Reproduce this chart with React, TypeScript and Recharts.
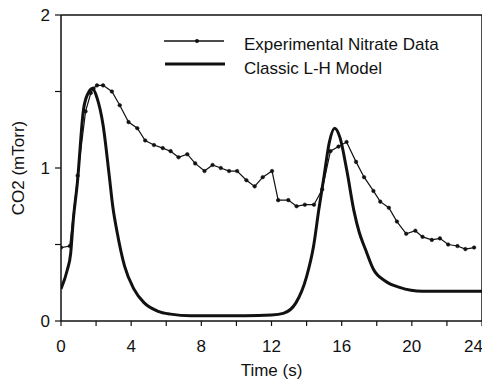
import React from "react";
import { LineChart, Line, XAxis, YAxis, ReferenceLine, Customized } from "recharts";

const expTime = [0, 0.5, 0.95, 1.4, 1.7, 1.85, 2.05, 2.4, 2.9, 3.35, 3.85, 4.35, 4.8, 5.3, 5.8, 6.25, 6.7, 7.2, 7.65, 8.18, 8.64, 9.11, 9.58, 10.04, 10.57, 11.04, 11.5, 12.03, 12.38, 12.96, 13.43, 13.9, 14.42, 14.89, 15.36, 15.82, 16.28, 16.82, 17.28, 17.81, 18.2, 18.69, 19.15, 19.68, 20.2, 20.61, 21.14, 21.6, 22.07, 22.6, 23.05, 23.55];
const expValue = [0.48, 0.49, 0.95, 1.37, 1.49, 1.52, 1.54, 1.54, 1.5, 1.41, 1.3, 1.26, 1.18, 1.15, 1.13, 1.11, 1.07, 1.09, 1.03, 0.98, 1.02, 1.0, 0.98, 0.98, 0.92, 0.88, 0.94, 0.98, 0.79, 0.79, 0.75, 0.76, 0.76, 0.86, 1.11, 1.14, 1.17, 1.04, 0.94, 0.85, 0.78, 0.74, 0.65, 0.57, 0.59, 0.55, 0.53, 0.54, 0.5, 0.49, 0.47, 0.48];

const modelTime = [0, 0.35, 0.55, 0.7, 0.93, 1.28, 1.55, 1.8, 2.05, 2.4, 2.75, 2.95, 3.2, 3.62, 4.15, 4.73, 5.5, 6.25, 7.4, 10.5, 12.0, 12.67, 13.4, 14.0, 14.4, 14.7, 15.0, 15.3, 15.6, 15.9, 16.3, 16.7, 17.0, 17.35, 17.8, 18.5, 19.3, 20.6, 24];
const modelValue = [0.21, 0.33, 0.44, 0.66, 0.9, 1.38, 1.49, 1.52, 1.46, 1.28, 0.95, 0.75, 0.58, 0.36, 0.21, 0.12, 0.065, 0.045, 0.035, 0.035, 0.04, 0.05, 0.12, 0.29, 0.49, 0.73, 0.95, 1.17, 1.26, 1.2, 0.98, 0.72, 0.58, 0.47, 0.34, 0.26, 0.22, 0.195, 0.195];

const xTicks = [0, 2, 4, 6, 8, 10, 12, 14, 16, 18, 20, 22, 24];
const yTicks = [0, 0.5, 1, 1.5, 2];
const seriesNames = ["Experimental Nitrate Data", "Classic L-H Model"];
const xTitle = "Time (s)";
const yTitle = "CO2 (mTorr)";

const expData = expTime.map((t, i) => ({ t, v: expValue[i] }));
const modelData = modelTime.map((t, i) => ({ t, v: modelValue[i] }));

const FONT = "'Liberation Sans', Arial, sans-serif";
const FS = 17;
const tickStyle = { fontFamily: FONT, fontSize: FS, fill: "#111" };

const LegendBox = () => (
  <g>
    <line x1={164} x2={224} y1={41} y2={41} stroke="#111" strokeWidth={1.3} />
    <circle cx={197} cy={41} r={2} fill="#111" />
    <text x={244} y={50} style={{ fontFamily: FONT, fontSize: FS, fill: "#111" }}>{seriesNames[0]}</text>
    <line x1={165} x2={225} y1={64} y2={64} stroke="#111" strokeWidth={3} />
    <text x={244} y={74} style={{ fontFamily: FONT, fontSize: FS, fill: "#111" }}>{seriesNames[1]}</text>
  </g>
);

export default function App() {
  return (
    <div style={{ position: "absolute", left: 0, top: 0, background: "#fff" }}>
      <LineChart width={482} height={379} margin={{ top: 15, right: 0, bottom: 0, left: 0 }}>
        <XAxis
          dataKey="t"
          type="number"
          domain={[0, 24]}
          ticks={xTicks}
          allowDataOverflow
          tickFormatter={(v: number) => (v % 4 === 0 ? String(v) : "")}
          height={58}
          tickSize={5}
          tickMargin={14}
          tick={tickStyle}
          stroke="#111"
          axisLine={{ stroke: "#111", strokeWidth: 1.5 }}
          tickLine={{ stroke: "#111", strokeWidth: 1.2 }}
          label={{ value: xTitle, position: "insideBottom", offset: 3, style: { fontFamily: FONT, fontSize: FS, fill: "#111" } }}
        />
        <YAxis
          domain={[0, 2]}
          ticks={yTicks}
          width={61}
          tickFormatter={(v: number) => (v % 1 === 0 ? String(v) : "")}
          tickSize={6}
          tickMargin={5}
          tick={tickStyle}
          axisLine={{ stroke: "#111", strokeWidth: 1.5 }}
          tickLine={{ stroke: "#111", strokeWidth: 1.2 }}
          label={{ value: yTitle, angle: -90, position: "insideLeft", offset: 18, style: { fontFamily: FONT, fontSize: FS, fill: "#111", textAnchor: "middle" } }}
        />
        <YAxis
          yAxisId="r"
          orientation="right"
          domain={[0, 2]}
          ticks={[0.5, 1, 1.5]}
          width={10}
          mirror
          tick={false}
          tickSize={5}
          axisLine={{ stroke: "#111", strokeWidth: 1.5 }}
          tickLine={{ stroke: "#111", strokeWidth: 1.2 }}
        />
        <ReferenceLine y={2} stroke="#111" strokeWidth={1.5} />
        <Line
          data={modelData}
          dataKey="v"
          type="monotone"
          stroke="#111"
          strokeWidth={3}
          dot={false}
          isAnimationActive={false}
        />
        <Line
          data={expData}
          dataKey="v"
          type="linear"
          stroke="#111"
          strokeWidth={1.2}
          dot={{ r: 1.8, fill: "#111", stroke: "#111", strokeWidth: 0.5 }}
          isAnimationActive={false}
        />
        <Customized component={LegendBox} />
      </LineChart>
    </div>
  );
}
